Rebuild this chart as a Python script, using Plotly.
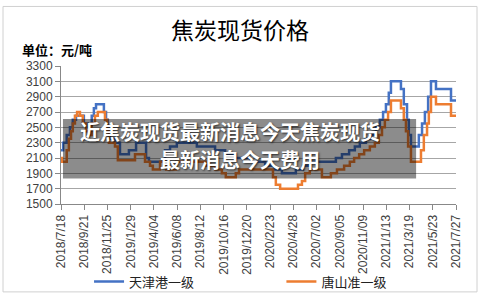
import plotly.graph_objects as go

# ---- data ----
tianjin_dates = ["2018-07-18", "2018-07-24", "2018-08-03", "2018-08-12", "2018-08-20", "2018-08-29",
                 "2018-09-20", "2018-10-01", "2018-10-12", "2018-10-18", "2018-10-24", "2018-11-15",
                 "2018-11-21", "2018-11-26", "2018-12-02", "2018-12-16", "2018-12-30", "2019-01-24",
                 "2019-02-13", "2019-03-13", "2019-03-21", "2019-05-05", "2019-05-19", "2019-06-07",
                 "2019-08-02", "2019-09-22", "2019-10-20", "2019-11-17", "2019-12-29", "2020-02-09",
                 "2020-03-05", "2020-03-27", "2020-05-05", "2020-05-25", "2020-06-13", "2020-08-25",
                 "2020-09-11", "2020-10-01", "2020-10-17", "2020-10-31", "2020-11-17", "2020-12-01",
                 "2020-12-15", "2020-12-26", "2021-01-04", "2021-01-12", "2021-01-20", "2021-01-26",
                 "2021-02-23", "2021-03-03", "2021-03-12", "2021-03-17", "2021-03-23", "2021-04-14",
                 "2021-04-23", "2021-05-01", "2021-05-10", "2021-05-18", "2021-06-01", "2021-07-13",
                 "2021-07-27"]
tianjin_vals = [2200, 2300, 2400, 2500, 2600, 2650,
                2550, 2500, 2650, 2750, 2800, 2700,
                2600, 2500, 2350, 2300, 2150, 2200,
                2300, 2100, 2050, 2200, 2250, 2300,
                2250, 2200, 2150, 2100, 2050, 2000,
                1950, 1900, 1950, 2000, 2050, 2100,
                2150, 2200, 2250, 2300, 2350, 2400,
                2500, 2600, 2700, 2800, 2950, 3100,
                3000, 2800, 2600, 2400, 2250, 2400,
                2550, 2700, 2900, 3100, 3000, 2850,
                2850]

tangshan_dates = ["2018-07-18", "2018-07-21", "2018-08-03", "2018-08-09", "2018-08-15", "2018-08-20",
                  "2018-08-26", "2018-09-01", "2018-09-09", "2018-09-17", "2018-09-26", "2018-10-04",
                  "2018-10-12", "2018-10-21", "2018-10-29", "2018-11-18", "2018-11-24", "2018-11-29",
                  "2018-12-16", "2018-12-24", "2019-02-10", "2019-03-10", "2019-03-24", "2019-04-01",
                  "2019-04-21", "2019-05-08", "2019-06-05", "2019-08-27", "2019-09-22", "2019-10-11",
                  "2019-10-22", "2019-11-19", "2019-11-28", "2020-03-02", "2020-03-10", "2020-03-22",
                  "2020-05-11", "2020-05-22", "2020-05-31", "2020-06-13", "2020-07-17", "2020-08-11",
                  "2020-08-28", "2020-09-17", "2020-10-03", "2020-10-15", "2020-10-29", "2020-11-12",
                  "2020-11-28", "2020-12-12", "2020-12-23", "2021-01-01", "2021-01-09", "2021-01-18",
                  "2021-01-26", "2021-02-23", "2021-03-03", "2021-03-09", "2021-03-15", "2021-03-23",
                  "2021-04-20", "2021-04-28", "2021-05-07", "2021-05-12", "2021-05-18", "2021-06-01",
                  "2021-07-13", "2021-07-27"]
tangshan_vals = [2100, 2050, 2200, 2350, 2450, 2550,
                 2650, 2700, 2650, 2550, 2450, 2400,
                 2550, 2650, 2700, 2600, 2450, 2300,
                 2250, 2070, 2150, 2050, 2000, 1950,
                 2050, 1950, 2050, 2000, 1950, 1900,
                 1850, 1900, 1950, 1850, 1750, 1700,
                 1750, 1800, 1900, 1950, 1850, 1900,
                 1950, 2000, 2050, 2100, 2150, 2200,
                 2250, 2300, 2400, 2500, 2600, 2700,
                 2850, 2750, 2600, 2450, 2250, 2050,
                 2200, 2400, 2550, 2700, 2900, 2800,
                 2650, 2650]

tick_dates = ["2018-07-18", "2018-09-21", "2018-11-25", "2019-01-29", "2019-04-04", "2019-06-08",
              "2019-08-12", "2019-10-16", "2019-12-20", "2020-02-23", "2020-04-28", "2020-07-02",
              "2020-09-05", "2020-11-09", "2021-01-13", "2021-03-19", "2021-05-23", "2021-07-27"]
tick_labels = ["2018/7/18", "2018/9/21", "2018/11/25", "2019/1/29", "2019/4/04", "2019/6/08",
               "2019/8/12", "2019/10/16", "2019/12/20", "2020/2/23", "2020/4/28", "2020/7/02",
               "2020/9/05", "2020/11/09", "2021/1/13", "2021/3/19", "2021/5/23", "2021/7/27"]

series_names = ["天津港一级", "唐山准一级"]
title_text = "焦炭现货价格"
unit_text = "单位：元/吨"
overlay_line1 = "近焦炭现货最新消息今天焦炭现货"
overlay_line2 = "最新消息今天费用"

CJK = "Noto Sans CJK SC, Noto Sans, sans-serif"
NUM = "Liberation Sans, Arial, sans-serif"

fig = go.Figure()
fig.add_trace(go.Scatter(x=tianjin_dates, y=tianjin_vals, mode="lines", name=series_names[0],
                         legend="legend",
                         line=dict(color="#4472C4", width=2.5, shape="hv")))
fig.add_trace(go.Scatter(x=tangshan_dates, y=tangshan_vals, mode="lines", name=series_names[1],
                         legend="legend2",
                         line=dict(color="#ED7D31", width=2.5, shape="hv")))

legend_common = dict(orientation="h", yanchor="middle", y=-0.562, xanchor="left",
                     font=dict(family=CJK, size=13, color="#222222"),
                     bgcolor="rgba(0,0,0,0)", borderwidth=0)

fig.update_layout(
    width=480, height=308, autosize=False,
    margin=dict(l=61, r=24, t=66, b=96),
    paper_bgcolor="white", plot_bgcolor="white",
    showlegend=True,
    legend=dict(legend_common, x=0.071),
    legend2=dict(legend_common, x=0.558),
    xaxis=dict(type="date", range=["2018-07-18", "2021-07-27"],
               tickmode="array", tickvals=tick_dates, ticktext=tick_labels,
               tickangle=-90, tickfont=dict(family=NUM, size=12, color="#404040"),
               ticks="outside", ticklen=5, tickcolor="#888888",
               showline=True, linecolor="#888888", linewidth=1,
               showgrid=False, zeroline=False, automargin=False),
    yaxis=dict(range=[1500, 3300], tickmode="linear", tick0=1500, dtick=200,
               tickfont=dict(family=NUM, size=12, color="#404040"),
               ticks="outside", ticklen=5, tickcolor="#888888",
               showline=True, linecolor="#888888", linewidth=1,
               showgrid=True, gridcolor="#a6a6a6", gridwidth=1,
               zeroline=False, automargin=False),
)

# outer chart border
fig.add_shape(type="rect", xref="paper", yref="paper",
              x0=-0.1468, x1=1.0532, y0=-0.637, y1=1.4315,
              line=dict(color="#d0d0d0", width=1), fillcolor="rgba(0,0,0,0)", layer="below")

# overlay banner
fig.add_shape(type="rect", xref="paper", yref="paper",
              x0=0.005, x1=0.899, y0=0.185, y1=0.616,
              line=dict(width=0), fillcolor="rgba(0,0,0,0.45)", layer="above")

fig.add_annotation(text=title_text, xref="paper", yref="paper", x=0.4532, y=1.267,
                   xanchor="center", yanchor="middle", showarrow=False,
                   font=dict(family=CJK, size=23, color="#000000"))
fig.add_annotation(text="<b>" + unit_text + "</b>", xref="paper", yref="paper", x=-0.1038, y=1.118,
                   xanchor="left", yanchor="middle", showarrow=False,
                   font=dict(family=CJK, size=13, color="#000000"))
fig.add_annotation(text="<b>" + overlay_line1 + "</b>", xref="paper", yref="paper", x=0.4266, y=0.5274,
                   xanchor="center", yanchor="middle", showarrow=False,
                   font=dict(family=CJK, size=20, color="#ffffff", shadow="1px 1px 2px rgba(0,0,0,0.7)"))
fig.add_annotation(text="<b>" + overlay_line2 + "</b>", xref="paper", yref="paper", x=0.4544, y=0.3219,
                   xanchor="center", yanchor="middle", showarrow=False,
                   font=dict(family=CJK, size=20, color="#ffffff", shadow="1px 1px 2px rgba(0,0,0,0.7)"))

fig.write_html("out.html")
